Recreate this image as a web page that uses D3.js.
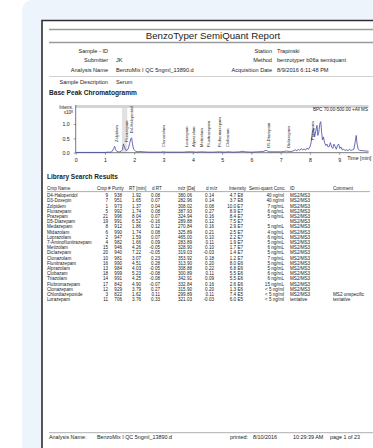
<!DOCTYPE html>
<html><head><meta charset="utf-8">
<script src="https://cdn.jsdelivr.net/npm/d3@7/dist/d3.min.js"></script>
<style>
html,body{margin:0;padding:0;background:#fff;overflow:hidden}
svg{display:block;font-family:"Liberation Sans",Arial,sans-serif}
</style>
</head><body>
<svg id="c" width="373" height="448"></svg>
<script>
// ---------- data ----------
const reportTitle = "BenzoTyper SemiQuant Report";
const metaLeftLabels = ["Sample - ID", "Submitter", "Analysis Name", "Sample Description"];
const metaLeftValues = ["", "JK", "BenzoMix I QC 5ngml_13890.d", "Serum"];
const metaRightLabels = ["Station", "Method", "Acquisition Date"];
const metaRightValues = ["Trapinski", "benzotyper b06a semiquant", "8/9/2016 6:11:48 PM"];

// chromatogram trace (time in min, intensity x10^8)
const traceTime = [0.0,0.2,0.4,0.6,0.8,1.0,1.1,1.2,1.25,1.3,1.33,1.36,1.4,1.45,1.5,1.55,1.6,1.63,1.66,1.7,1.75,1.8,1.84,1.88,1.91,1.94,1.98,2.05,2.1,2.2,2.3,2.5,2.7,2.9,3.0,3.1,3.3,3.5,3.7,3.8,4.0,4.1,4.3,4.5,4.7,4.9,5.1,5.2,5.4,5.6,5.7,5.8,6.0,6.2,6.4,6.5,6.55,6.6,6.8,7.0,7.1,7.2,7.3,7.4,7.5,7.55,7.6,7.65,7.7,7.75,7.8,7.85,7.9,7.95,8.0,8.04,8.08,8.12,8.16,8.2,8.24,8.27,8.3,8.34,8.37,8.4,8.43,8.46,8.5,8.54,8.58,8.62,8.66,8.7,8.74,8.78,8.82,8.86,8.9,8.94,8.98,9.02,9.06,9.1,9.15,9.2,9.25,9.3,9.35,9.4,9.45,9.5,9.55,9.58,9.61,9.65,9.7,9.8,9.9,10.0];
const traceIntensity = [0.01,0.01,0.01,0.01,0.01,0.01,0.02,0.02,0.05,0.15,0.22,0.12,0.05,0.03,0.03,0.05,0.12,0.3,0.22,0.1,0.08,0.15,0.32,0.48,0.52,0.3,0.12,0.05,0.03,0.04,0.03,0.02,0.02,0.02,0.03,0.02,0.02,0.02,0.02,0.03,0.03,0.02,0.03,0.02,0.02,0.03,0.02,0.03,0.02,0.03,0.05,0.03,0.02,0.03,0.04,0.08,0.06,0.03,0.03,0.03,0.04,0.06,0.04,0.05,0.1,0.06,0.12,0.08,0.14,0.1,0.13,0.09,0.16,0.12,0.2,0.35,0.7,0.85,0.55,0.75,0.95,0.6,0.7,1.02,1.08,0.7,0.45,0.55,0.35,0.25,0.3,0.2,0.22,0.35,0.2,0.15,0.3,0.22,0.12,0.25,0.3,0.15,0.2,0.1,0.12,0.08,0.1,0.07,0.12,0.08,0.1,0.12,0.4,0.6,0.3,0.12,0.08,0.07,0.06,0.05];

const peakNames = ["Zolpidem","Flurazepam","D4-Haloperidol","Clonazolam","Lorazepam","Alprazolam","Metizolam","Flunitrazepam","Flubromazepam","Clobazam","D5-Diazepam","Diclazepam","Prazepam"];
const peakRT    = [1.38,1.72,1.90,2.99,3.77,4.03,4.28,4.53,4.92,5.20,6.57,7.27,8.10];
const peakBase  = [0.37,0.37,0.68,0.2,0.2,0.2,0.2,0.2,0.2,0.2,0.17,0.17,0.44];
const yTicks = [0, 0.5, 1.0];
const xTicks = [0,1,2,3,4,5,6,7,8,9];

// library search results
const tableHeaders = ["Cmp Name","Cmp #","Purity","RT [min]","d RT","m/z [Da]","d m/z","Intensity","Semi-quant Conc.","ID","Comment"];
const cmpName = ["D4-Haloperidol","D3-Doxepin","Zolpidem","Flurazepam","Prazepam","D5-Diazepam","Medazepam","Midazolam","Loprazolam","7-Aminoflunitrazepam","Metizolam","Diclazepam","Clonazolam","Flunitrazepam","Alprazolam","Clobazam","Triazolam","Flubromazepam","Clonazepam","Chlordiazepoxide","Lorazepam"];
const cmpNo   = ["9","7","1","5","21","19","8","6","2","4","15","20","10","16","13","18","14","17","12","3","11"];
const purity  = ["938","951","973","992","996","991","912","990","947","982","946","940","981","990","984","999","991","842","929","822","706"];
const rtVal   = ["1.92","1.65","1.37","1.74","8.04","6.52","1.86","1.74","1.59","1.66","4.26","7.22","3.07","4.51","4.03","5.23","4.25","4.90","3.79","1.62","3.76"];
const dRT     = ["0.08","0.07","0.04","0.08","0.07","-0.16","0.12","0.08","0.07","0.09","-0.05","-0.05","0.23","0.28","-0.05","-0.08","-0.08","-0.07","0.27","0.11","0.33"];
const mz      = ["380.06","282.96","308.02","387.93","324.94","289.88","270.84","325.89","465.00","283.89","328.90","319.03","353.92","313.90","308.88","300.89","342.91","332.84","315.90","299.89","321.03"];
const dmz     = ["0.14","0.14","0.08","0.27","0.16","0.12","0.16","0.21","0.10","0.11","0.10","-0.03","0.18","0.20","0.22","0.11","0.09","0.16","0.20","0.11","-0.03"];
const intens  = ["4.7 E8","3.7 E8","10.0 E7","8.9 E7","8.4 E7","7.5 E7","2.9 E7","2.5 E7","2.2 E7","1.9 E7","1.7 E7","1.4 E7","1.2 E7","8.0 E6","6.8 E6","5.5 E6","5.5 E6","2.6 E6","1.3 E6","7.4 E5","6.0 E5"];
const conc    = ["40 ng/ml","40 ng/ml","7 ng/mL","6 ng/mL","5 ng/mL","","5 ng/mL","4 ng/mL","6 ng/mL","5 ng/mL","6 ng/mL","5 ng/mL","7 ng/mL","5 ng/mL","5 ng/mL","6 ng/mL","6 ng/mL","15 ng/mL","< 5 ng/ml","< 5 ng/ml","< 5 ng/ml"];
const idVal   = ["MS2/MS3","MS2/MS3","MS2/MS3","MS2/MS3","MS2/MS3","MS2/MS3","MS2/MS3","MS2/MS3","MS2/MS3","MS2/MS3","MS2/MS3","MS2/MS3","MS2/MS3","MS2/MS3","MS2/MS3","MS2/MS3","MS2/MS3","MS2/MS3","MS2/MS3","MS2/MS3","tentative"];
const comment = ["","","","","","","","","","","","","","","","","","","","MS2 unspecific","tentative"];

const footerItems = ["Analysis Name:","BenzoMix I QC 5ngml_13890.d","printed:","8/10/2016","10:29:39 AM","page 1 of 23"];

// ---------- drawing ----------
const svg = d3.select("#c");
const txt = "#222";

svg.append("rect").attr("x",22).attr("y",0).attr("width",380).attr("height",470).attr("rx",10).attr("fill","#eef4fc");
svg.append("rect").attr("x",42).attr("y",20.5).attr("width",400).attr("height",460).attr("fill","#fff");
svg.append("path").attr("d","M42,470 V20.5 H380").attr("fill","none").attr("stroke","#2e2e2e").attr("stroke-width",1.6);

[29.5,42.5].forEach(y=>svg.append("line").attr("x1",49).attr("x2",380).attr("y1",y).attr("y2",y).attr("stroke","#9a9a9a").attr("stroke-width",1.3));
svg.append("text").attr("x",213).attr("y",39).attr("text-anchor","middle").attr("font-size",9.7).attr("fill",txt).text(reportTitle);

const metaY = [50.5,60,69.5,81.5];
metaLeftLabels.forEach((l,i)=>{
  svg.append("text").attr("x",108).attr("y",metaY[i]+2).attr("text-anchor","end").attr("font-size",5.6).attr("fill",txt).text(l);
  svg.append("text").attr("x",116).attr("y",metaY[i]+2).attr("font-size",5.6).attr("fill",txt).text(metaLeftValues[i]);
});
metaRightLabels.forEach((l,i)=>{
  svg.append("text").attr("x",272).attr("y",metaY[i]+2).attr("text-anchor","end").attr("font-size",5.6).attr("fill",txt).text(l);
  svg.append("text").attr("x",277).attr("y",metaY[i]+2).attr("font-size",5.6).attr("fill",txt).text(metaRightValues[i]);
});
svg.append("line").attr("x1",49).attr("x2",380).attr("y1",76.5).attr("y2",76.5).attr("stroke","#bbb").attr("stroke-width",0.7);

svg.append("text").attr("x",49).attr("y",95).attr("font-size",6.6).attr("font-weight","bold").attr("fill",txt).text("Base Peak Chromatogramm");

// chromatogram
const x = d3.scaleLinear().domain([0,10]).range([75.7,368.5]);
const y = d3.scaleLinear().domain([0,1]).range([152.7,124]);
const g = svg.append("g");
g.append("rect").attr("x",x(0)).attr("y",105).attr("width",x(10)-x(0)).attr("height",3).attr("fill","#d4d4d4");
g.append("rect").attr("x",x(1.58)).attr("y",108).attr("width",x(1.76)-x(1.58)).attr("height",y(0)-108).attr("fill","#e2e2e2");

const xAxis = g.append("g").attr("transform",`translate(0,${y(0)})`)
  .call(d3.axisBottom(x).tickValues(xTicks).tickSize(2).tickFormat(d3.format("d")));
const yAxis = g.append("g").attr("transform",`translate(${x(0)},0)`)
  .call(d3.axisLeft(y).tickValues(yTicks).tickSize(2).tickFormat(d3.format(".1f")));
[xAxis,yAxis].forEach(a=>{
  a.select(".domain").attr("stroke","#555").attr("stroke-width",0.8);
  a.selectAll(".tick line").attr("stroke","#555").attr("stroke-width",0.6);
  a.selectAll("text").attr("font-size",5.2).attr("fill",txt).attr("font-family","Liberation Sans, Arial, sans-serif");
});
xAxis.select(".domain").attr("d",`M${x(0)},0H${x(10)}`);
yAxis.select(".domain").attr("d",`M0,${y(0)}V105`);
xAxis.selectAll(".tick text").attr("dy","0.9em");
yAxis.selectAll(".tick text").attr("dx","-1");
g.append("text").attr("x",x(9)+8).attr("y",y(0)+7.5).attr("font-size",5.2).attr("fill",txt).text("Time [min]");
g.append("text").attr("x",73).attr("y",109).attr("text-anchor","end").attr("font-size",4.6).attr("fill",txt).text("Intens.");
const ylab = g.append("text").attr("x",73).attr("y",114).attr("text-anchor","end").attr("font-size",4.6).attr("fill",txt);
ylab.append("tspan").text("x10");
ylab.append("tspan").attr("dy",-1.5).attr("font-size",3.4).text("8");
g.append("text").attr("x",368).attr("y",110.5).attr("text-anchor","end").attr("font-size",4.6).attr("fill",txt).text("BPC 70.00-500.00 +All MS");

const line = d3.line().x((d,i)=>x(traceTime[i])).y(d=>y(d));
g.append("path").datum(traceIntensity).attr("d",line).attr("fill","none").attr("stroke","#4646a6").attr("stroke-width",0.8);

peakNames.forEach((n,i)=>{
  const px = x(peakRT[i]), py = y(peakBase[i]);
  g.append("text").attr("transform",`translate(${px+1.5},${py}) rotate(-90)`).attr("font-size",4.1)
    .attr("font-family","Liberation Sans, Arial, sans-serif").attr("fill",txt).text(n);
});

// library search results
const tfs = 4.6;
svg.append("text").attr("x",47).attr("y",179).attr("font-size",6.5).attr("font-weight","bold").attr("fill",txt).text("Library Search Results");
const hdrX = [47,97,112,129,152,178,206,229,249,290,333];
tableHeaders.forEach((h,i)=>svg.append("text").attr("x",hdrX[i]).attr("y",190).attr("font-size",tfs).attr("fill",txt).text(h));
svg.append("line").attr("x1",47).attr("x2",370).attr("y1",191.6).attr("y2",191.6).attr("stroke","#333").attr("stroke-width",0.4);
const cols = [
  {v:cmpName, x:47, a:"start"},
  {v:cmpNo, x:108, a:"end"},
  {v:purity, x:122, a:"end"},
  {v:rtVal, x:141, a:"end"},
  {v:dRT, x:160, a:"end"},
  {v:mz, x:192, a:"end"},
  {v:dmz, x:214, a:"end"},
  {v:intens, x:243, a:"end"},
  {v:conc, x:284, a:"end"},
  {v:idVal, x:290, a:"start"},
  {v:comment, x:333, a:"start"}
];
const rowY = d3.scaleLinear().domain([0,20]).range([197.2,301.2]);
cmpName.forEach((_,r)=>{
  cols.forEach(c=>{
    if(c.v[r]) svg.append("text").attr("x",c.x).attr("y",rowY(r)).attr("text-anchor",c.a).attr("font-size",tfs).attr("fill",txt).text(c.v[r]);
  });
});

// footer
svg.append("line").attr("x1",49).attr("x2",380).attr("y1",432.7).attr("y2",432.7).attr("stroke","#9a9a9a").attr("stroke-width",0.8);
const footX = [49,97,230,253,293,330];
footerItems.forEach((t,i)=>svg.append("text").attr("x",footX[i]).attr("y",438.5).attr("font-size",5.4).attr("fill",txt).text(t));
</script>
</body></html>
